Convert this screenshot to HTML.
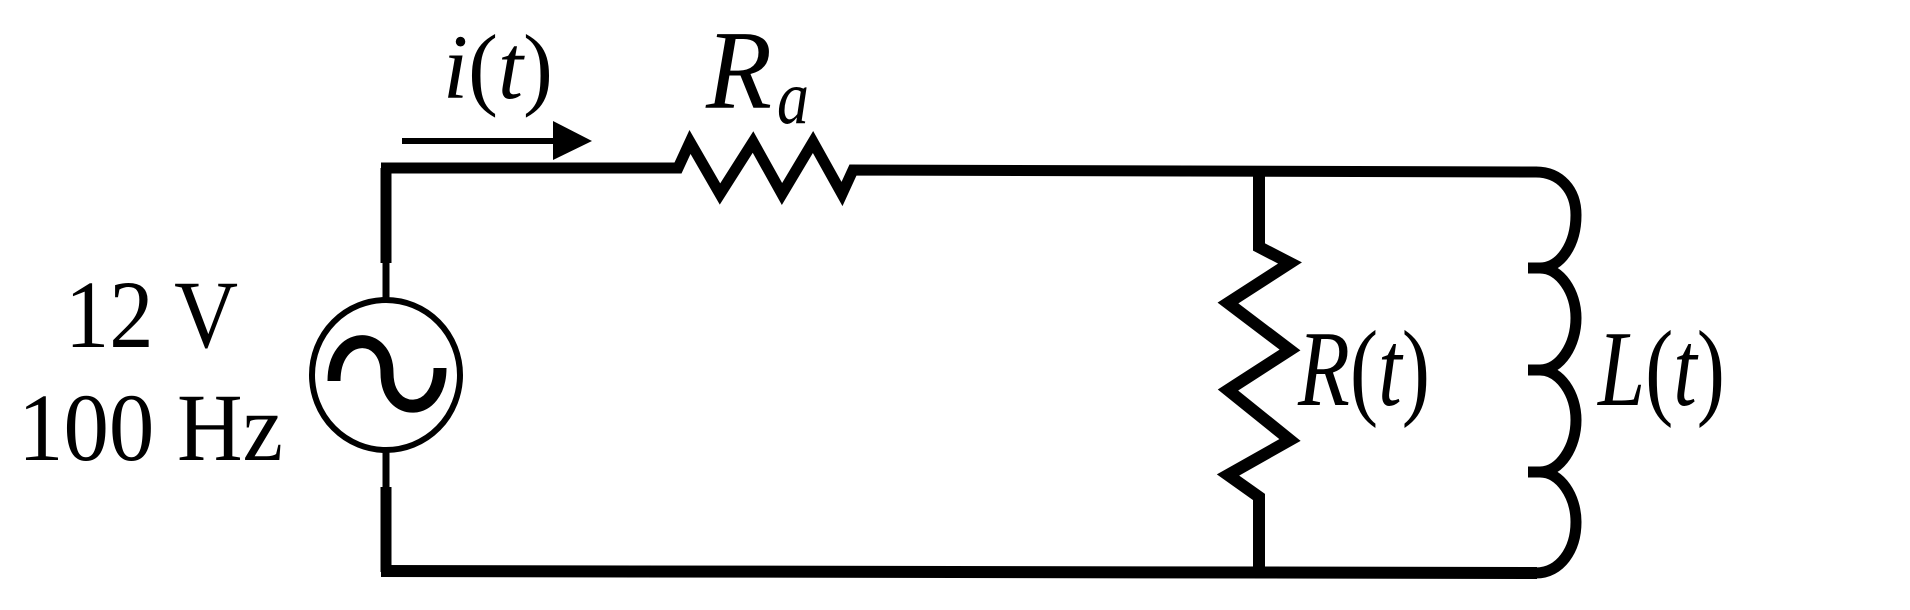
<!DOCTYPE html>
<html><head><meta charset="utf-8"><style>
html,body{margin:0;padding:0;background:#fff;}
svg{display:block;}
text{font-family:"Liberation Serif","Times New Roman",Times,serif;fill:#000;}
</style></head><body>
<svg width="1910" height="610" viewBox="0 0 1910 610" xmlns="http://www.w3.org/2000/svg">
<g fill="none" stroke="#000" stroke-linejoin="miter" stroke-linecap="butt">
  <path d="M386,168 L386,263" stroke-width="11"/>
  <path d="M386,262 L386,300" stroke-width="7"/>
  <path d="M386,450 L386,488" stroke-width="7"/>
  <path d="M386,487 L386,572" stroke-width="11"/>
  <path d="M381,168 L678,168 L690,142 L720,194 L753,142 L782,194 L813,142 L842,194 L853,170 L1537,172" stroke-width="11"/>
  <path d="M381,571 L1537,573" stroke-width="12"/>
  <path d="M1259,172 L1259,247 L1290,263 L1228,303 L1290,350 L1228,390 L1290,440 L1228,475 L1259,497 L1259,573" stroke-width="12"/>
  <path d="M1536,172 C1560,172 1576,190 1576,215 C1576,245 1560,268 1540,268 C1560,268 1576,292 1576,318 C1576,345 1560,370 1540,370 C1560,370 1576,394 1576,420 C1576,447 1560,472 1540,472 C1560,472 1576,496 1576,522 C1576,550 1560,573 1536,573" stroke-width="11"/>
  <path d="M1528,268 L1545,268 M1528,370 L1545,370 M1528,472 L1545,472" stroke-width="11"/>
  <ellipse cx="386" cy="375" rx="74" ry="75" stroke-width="6"/>
  <path d="M334,381 C334,330 387,330 387,373 C387,418 440,418 440,368" stroke-width="13"/>
  <path d="M402,141 L560,141" stroke-width="6"/>
</g>
<polygon points="553,121 592,141 553,160" fill="#000"/>
<text x="443" y="98" font-size="92" textLength="110" lengthAdjust="spacingAndGlyphs"><tspan font-style="italic">i</tspan>(<tspan font-style="italic">t</tspan>)</text>
<text x="706" y="108" font-size="112" font-style="italic" textLength="66" lengthAdjust="spacingAndGlyphs">R</text>
<text x="777" y="123" font-size="76" font-style="italic" textLength="32" lengthAdjust="spacingAndGlyphs">a</text>
<text x="1298" y="405" font-size="108" textLength="132" lengthAdjust="spacingAndGlyphs"><tspan font-style="italic">R</tspan>(<tspan font-style="italic">t</tspan>)</text>
<text x="1598" y="405" font-size="108" textLength="127" lengthAdjust="spacingAndGlyphs"><tspan font-style="italic">L</tspan>(<tspan font-style="italic">t</tspan>)</text>
<text x="65" y="347" font-size="96" textLength="173" lengthAdjust="spacingAndGlyphs">12 V</text>
<text x="18" y="460" font-size="96" textLength="265" lengthAdjust="spacingAndGlyphs">100 Hz</text>
</svg>
</body></html>
